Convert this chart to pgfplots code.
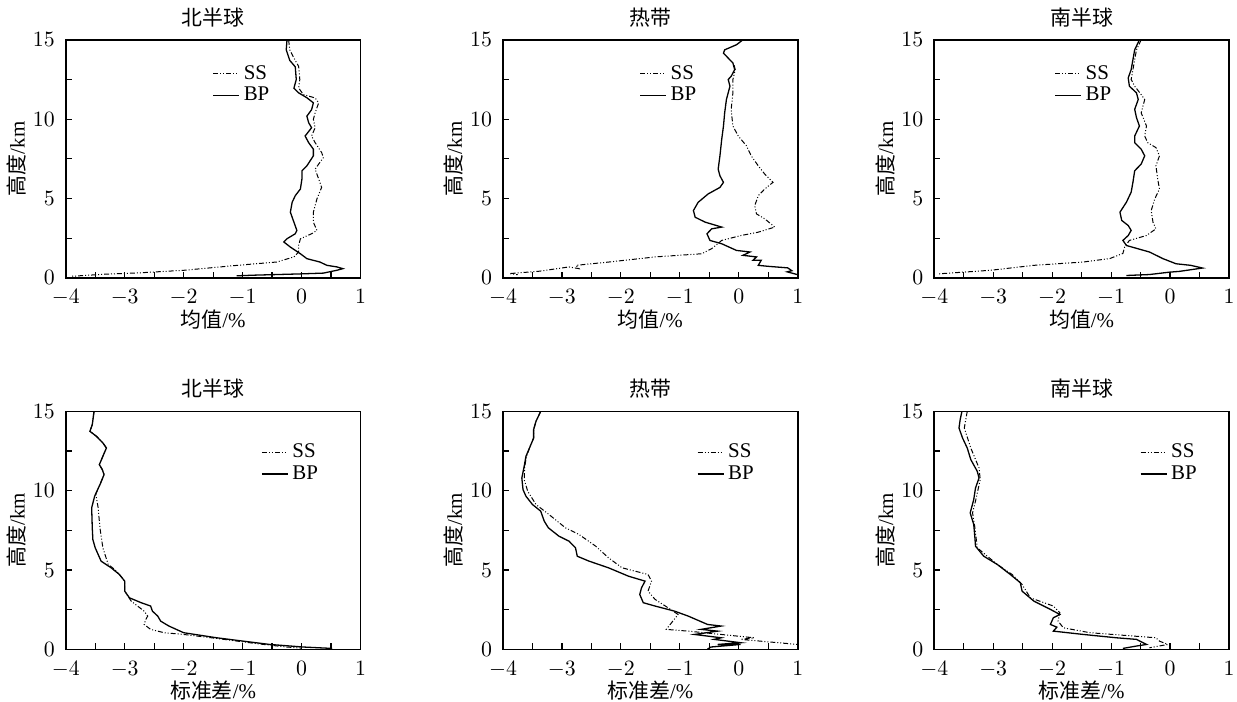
\documentclass[border=0pt]{standalone}
\usepackage{pgfplots}
\pgfplotsset{compat=1.18}
\usepackage{fontspec}
\setmainfont{Liberation Serif}
\newfontfamily\cjk{Noto Sans CJK SC}
\begin{document}
\pgfplotsset{
  panel/.style={
    scale only axis, width=148pt, height=119.5pt,
    xmin=-4, xmax=1, ymin=0, ymax=15,
    xtick={-4,-3,-2,-1,0,1}, ytick={0,5,10,15},
    minor x tick num=1, minor y tick num=1,
    xtick pos=bottom, ytick pos=left, tick align=inside,
    major tick length=3pt, minor tick length=3pt,
    every tick/.style={black, line width=0.6pt},
    axis line style={line width=0.8pt},
    tick label style={font=\fontsize{10.5}{12}\selectfont},
    xticklabel style={yshift=-2.5pt},
    yticklabel style={xshift=-2pt},
    label style={font=\fontsize{10.5}{12}\selectfont},
    xlabel style={yshift=5pt},
    title style={font=\fontsize{10.5}{12}\selectfont, yshift=-3pt},
    ylabel={{\cjk 高度}/km},
    ylabel style={yshift=-3.5pt},
    legend cell align=left,
    legend image code/.code={\draw[#1] (0pt,0pt) -- (13pt,0pt);},
    legend style={draw=none, fill=none, font=\fontsize{10.5}{11}\selectfont, row sep=-1.5pt, inner sep=1pt},
  },
  ss/.style={black, line width=0.5pt, dash pattern=on 2.5pt off 1pt on 0.5pt off 1pt on 0.5pt off 1pt},
  bp/.style={black, line width=0.65pt},
}
\begin{tikzpicture}
\useasboundingbox (0pt,0pt) rectangle (618.5pt,-352pt);
% ---------- top left
\begin{axis}[panel, at={(30.5pt,-139.5pt)}, anchor=south west,
  title={\cjk 北半球}, xlabel={{\cjk 均值}/\%},
  legend style={at={(0.49,0.92)}, anchor=north west}]
\addplot[ss] coordinates {(-0.22,15) (-0.20,14.37) (-0.13,13.85) (-0.05,13.33) (-0.03,12.5) (-0.05,11.97) (0.03,11.55) (0.23,11.34) (0.29,11.03) (0.23,10.4) (0.20,9.99) (0.23,9.46) (0.17,8.94) (0.23,8.52) (0.34,7.9) (0.37,7.58) (0.29,7.17) (0.23,6.85) (0.29,6.23) (0.34,5.7) (0.26,4.97) (0.20,4.14) (0.20,3.51) (0.26,2.99) (0.17,2.78) (-0.02,2.46) (-0.05,2.05) (-0.05,1.63) (-0.13,1.32) (-0.42,1.0) (-1.09,0.79) (-1.99,0.48) (-2.78,0.31) (-3.34,0.23) (-3.90,0.10)};
\addplot[bp] coordinates {(-0.247,15) (-0.26,14.37) (-0.20,13.7) (-0.107,13.3) (-0.09,12.5) (-0.13,11.95) (-0.05,11.66) (0.09,11.35) (0.20,11.03) (0.17,10.6) (0.09,10.19) (0.12,9.78) (0.17,9.46) (0.06,8.94) (0.12,8.52) (0.20,8.11) (0.20,7.69) (0.09,7.06) (0.006,6.75) (0.006,6.23) (-0.02,5.6) (-0.107,5.18) (-0.16,4.76) (-0.19,4.14) (-0.13,3.51) (-0.08,2.99) (-0.107,2.78) (-0.25,2.46) (-0.30,2.26) (-0.19,1.94) (-0.02,1.52) (0.09,1.21) (0.31,1.0) (0.43,0.79) (0.60,0.69) (0.70,0.58) (0.60,0.48) (0.37,0.30) (-0.02,0.25) (-0.81,0.17) (-1.1,0.13)};
\legend{SS,BP}
\end{axis}
% ---------- top middle
\begin{axis}[panel, at={(250pt,-139.5pt)}, anchor=south west,
  title={\cjk 热带}, xlabel={{\cjk 均值}/\%},
  legend style={at={(0.455,0.92)}, anchor=north west}]
\addplot[ss] coordinates {(-0.08,13.4) (-0.06,13.12) (-0.10,12.5) (-0.10,11.66) (-0.13,10.6) (-0.10,9.57) (-0.01,8.94) (0.13,8.32) (0.21,7.69) (0.33,7.06) (0.44,6.54) (0.58,6.02) (0.44,5.6) (0.33,5.18) (0.27,4.55) (0.30,4.03) (0.44,3.72) (0.61,3.2) (0.33,2.88) (0.04,2.67) (-0.29,2.36) (-0.46,1.84) (-0.63,1.52) (-1.42,1.32) (-2.20,1.0) (-2.76,0.79) (-2.71,0.58) (-2.88,0.69) (-3.38,0.42) (-3.89,0.27) (-3.75,0.2)};
\addplot[bp] coordinates {(0.07,15) (-0.04,14.69) (-0.24,14.37) (-0.26,14.16) (-0.18,13.85) (-0.10,13.54) (-0.07,13.12) (-0.13,12.7) (-0.18,12.5) (-0.15,12.08) (-0.21,11.24) (-0.24,10.4) (-0.26,9.57) (-0.29,8.73) (-0.32,7.69) (-0.35,6.85) (-0.32,6.43) (-0.26,6.02) (-0.32,5.7) (-0.52,5.29) (-0.69,4.76) (-0.77,4.24) (-0.74,3.82) (-0.57,3.51) (-0.29,3.2) (-0.46,3.09) (-0.54,2.78) (-0.49,2.36) (-0.29,2.15) (-0.04,1.73) (0.19,1.63) (0.07,1.42) (0.30,1.32) (0.24,1.11) (0.38,1.11) (0.33,0.79) (0.49,0.73) (0.83,0.63) (0.90,0.45) (0.82,0.38) (1.0,0.2)};
\legend{SS,BP}
\end{axis}
% ---------- top right
\begin{axis}[panel, at={(466.5pt,-139.5pt)}, anchor=south west,
  title={\cjk 南半球}, xlabel={{\cjk 均值}/\%},
  legend style={at={(0.40,0.92)}, anchor=north west}]
\addplot[ss] coordinates {(-0.49,15) (-0.57,14.37) (-0.60,13.75) (-0.63,13.12) (-0.66,12.5) (-0.60,12.08) (-0.49,11.55) (-0.43,11.24) (-0.49,10.4) (-0.40,9.57) (-0.43,8.94) (-0.38,8.52) (-0.24,8.21) (-0.18,7.69) (-0.24,7.06) (-0.21,6.23) (-0.18,5.6) (-0.26,4.97) (-0.32,4.24) (-0.29,3.51) (-0.24,3.09) (-0.40,2.67) (-0.69,2.36) (-0.77,1.95) (-0.80,1.54) (-1.02,1.22) (-1.47,1.0) (-2.31,0.79) (-3.04,0.48) (-3.94,0.25)};
\addplot[bp] coordinates {(-0.52,15) (-0.60,14.37) (-0.63,13.75) (-0.66,13.12) (-0.71,12.6) (-0.69,12.08) (-0.57,11.66) (-0.54,11.24) (-0.60,10.62) (-0.57,10.1) (-0.52,9.57) (-0.60,8.94) (-0.60,8.52) (-0.49,8.11) (-0.43,7.69) (-0.49,7.17) (-0.60,6.75) (-0.63,6.02) (-0.66,5.4) (-0.74,4.77) (-0.85,4.14) (-0.82,3.62) (-0.71,3.3) (-0.66,2.99) (-0.71,2.67) (-0.80,2.36) (-0.74,2.04) (-0.35,1.63) (-0.12,1.21) (0.10,0.89) (0.35,0.79) (0.55,0.62) (0.16,0.41) (-0.01,0.36) (-0.35,0.21) (-0.74,0.15)};
\legend{SS,BP}
\end{axis}
% ---------- bottom left
\begin{axis}[panel, at={(30.5pt,-326pt)}, anchor=south west,
  title={\cjk 北半球}, xlabel={{\cjk 标准差}/\%},
  legend style={at={(0.655,0.89)}, anchor=north west}]
\addplot[ss] coordinates {(-3.52,15) (-3.55,14.16) (-3.59,13.74) (-3.48,13.43) (-3.37,13.01) (-3.31,12.69) (-3.37,12.17) (-3.43,11.64) (-3.38,11.33) (-3.35,11.01) (-3.42,10.38) (-3.49,9.8) (-3.45,8.92) (-3.42,7.66) (-3.37,6.4) (-3.28,5.35) (-3.17,5.04) (-3.09,4.72) (-3.00,4.3) (-3.00,3.67) (-2.89,3.04) (-2.67,2.41) (-2.61,2.1) (-2.64,1.89) (-2.67,1.57) (-2.56,1.26) (-2.33,1.05) (-2.0,0.94) (-1.44,0.69) (-0.76,0.36) (-0.26,0.15) (0.0,0.08)};
\addplot[bp] coordinates {(-3.52,15) (-3.55,14.16) (-3.59,13.74) (-3.48,13.43) (-3.37,13.01) (-3.31,12.69) (-3.37,12.17) (-3.43,11.64) (-3.38,11.33) (-3.35,11.01) (-3.42,10.38) (-3.51,9.65) (-3.56,8.92) (-3.55,7.66) (-3.54,6.92) (-3.50,6.4) (-3.40,5.56) (-3.23,5.14) (-3.09,4.72) (-3.00,4.3) (-3.00,3.67) (-2.92,3.25) (-2.72,2.94) (-2.56,2.73) (-2.53,2.41) (-2.44,2.1) (-2.39,1.78) (-2.25,1.47) (-2.0,1.05) (-1.44,0.73) (-0.99,0.52) (-0.54,0.31) (0.02,0.15) (0.52,0.06)};
\legend{SS,BP}
\end{axis}
% ---------- bottom middle
\begin{axis}[panel, at={(250pt,-326pt)}, anchor=south west,
  title={\cjk 热带}, xlabel={{\cjk 标准差}/\%},
  legend style={at={(0.65,0.89)}, anchor=north west}]
\addplot[ss] coordinates {(-3.36,15) (-3.44,14.37) (-3.48,13.85) (-3.48,13.32) (-3.55,12.69) (-3.60,12.17) (-3.63,11.54) (-3.64,10.7) (-3.58,9.96) (-3.44,9.13) (-3.22,8.5) (-2.94,7.66) (-2.71,7.24) (-2.43,6.51) (-2.21,5.77) (-1.98,5.14) (-1.54,4.72) (-1.48,4.3) (-1.54,3.67) (-1.42,3.15) (-1.20,2.62) (-1.03,2.2) (-1.23,1.26) (-0.86,1.15) (-0.30,0.94) (0.26,0.73) (0.03,0.63) (1.0,0.31)};
\addplot[bp] coordinates {(-3.36,15) (-3.44,14.37) (-3.48,13.85) (-3.48,13.32) (-3.55,12.69) (-3.61,12.17) (-3.64,11.54) (-3.68,10.8) (-3.66,10.07) (-3.61,9.65) (-3.50,9.13) (-3.36,8.71) (-3.30,8.08) (-3.23,7.66) (-3.05,7.13) (-2.88,6.82) (-2.77,6.4) (-2.74,5.87) (-2.54,5.56) (-2.21,5.14) (-1.87,4.61) (-1.59,4.3) (-1.65,3.88) (-1.68,3.46) (-1.62,2.94) (-1.42,2.73) (-1.09,2.41) (-0.86,2.1) (-0.53,1.57) (-0.30,1.47) (-0.64,1.26) (-0.36,1.15) (-0.75,0.94) (-0.30,0.73) (-0.42,0.63) (0.03,0.42) (-0.36,0.31) (0.03,0.31) (-0.47,0.15) (-0.53,0.02)};
\legend{SS,BP}
\end{axis}
% ---------- bottom right
\begin{axis}[panel, at={(466.5pt,-326pt)}, anchor=south west,
  title={\cjk 南半球}, xlabel={{\cjk 标准差}/\%},
  legend style={at={(0.69,0.89)}, anchor=north west}]
\addplot[ss] coordinates {(-3.44,15) (-3.49,13.95) (-3.38,12.69) (-3.24,11.43) (-3.22,10.7) (-3.30,9.34) (-3.35,8.6) (-3.31,7.66) (-3.27,6.4) (-3.10,5.87) (-2.93,5.35) (-2.68,4.72) (-2.51,4.09) (-2.37,3.25) (-1.98,2.73) (-1.87,2.31) (-1.90,1.78) (-1.81,1.36) (-1.36,1.05) (-0.24,0.73) (-0.18,0.52) (-0.04,0.31) (-0.35,0.1)};
\addplot[bp] coordinates {(-3.53,15) (-3.56,14.48) (-3.58,13.95) (-3.52,13.32) (-3.44,12.69) (-3.38,11.96) (-3.27,11.22) (-3.24,10.8) (-3.30,10.17) (-3.33,9.44) (-3.39,8.6) (-3.33,7.87) (-3.31,7.03) (-3.30,6.5) (-3.16,5.87) (-2.93,5.35) (-2.71,4.72) (-2.54,4.2) (-2.51,3.67) (-2.31,3.04) (-2.03,2.52) (-1.87,2.2) (-1.98,1.99) (-2.03,1.57) (-1.92,1.4) (-1.98,1.15) (-1.47,0.94) (-0.91,0.73) (-0.57,0.63) (-0.40,0.31) (-0.57,0.21) (-0.80,0.06)};
\legend{SS,BP}
\end{axis}
\end{tikzpicture}
\end{document}
